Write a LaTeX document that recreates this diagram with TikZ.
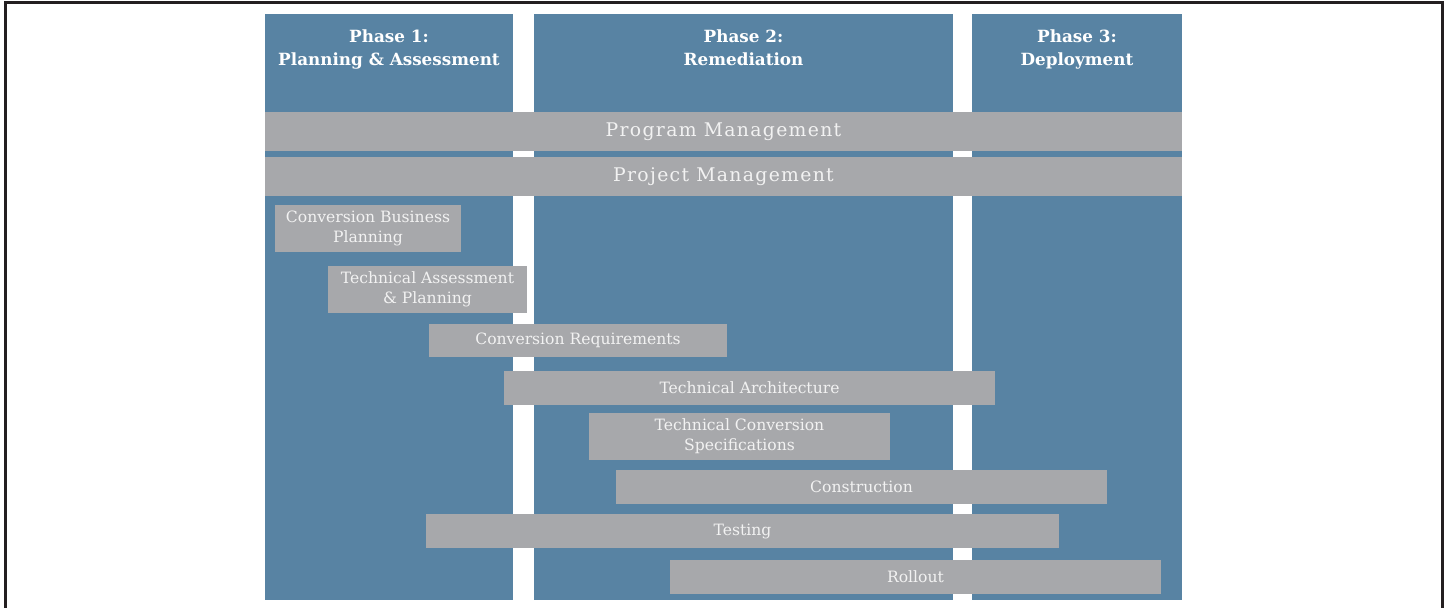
\documentclass[tikz,border=0pt]{standalone}
\usepackage{fontspec}
\setmainfont{DejaVu Serif}

\definecolor{phasenblau}{RGB}{88,131,163}
\definecolor{balkengrau}{RGB}{167,168,171}
\definecolor{schrift}{RGB}{242,242,242}
\definecolor{rahmen}{RGB}{35,31,32}

\tikzset{
    groesse/.style 2 args={minimum width=#1*0.5pt, minimum height=#2*0.5pt},
    phase/.style={fill=phasenblau, inner sep=0pt},
    titel/.style={text=white, align=center, font=\bfseries\fontsize{8.4}{11.5}\selectfont},
    balken/.style={fill=balkengrau, inner sep=0pt, text=schrift, align=center,
        font=\fontsize{7.8}{10}\selectfont},
    management/.style={balken, font=\fontsize{9.4}{10}\selectfont\addfontfeatures{LetterSpace=7}}
}

\begin{document}
\begin{tikzpicture}[x=0.5pt, y=-0.5pt]
        \useasboundingbox (0,0) rectangle (1447,608);
        % Rahmen
        \draw[line width=1.5pt, rahmen] (5,608) -- (5,2.5) -- (1442.5,2.5) -- (1442.5,608);
        % Phasen
        \node[phase, groesse={248}{586}] (p1) at (389,307) {};
        \node[phase, groesse={419}{586}] (p2) at (743.5,307) {};
        \node[phase, groesse={210}{586}] (p3) at (1077,307) {};
        \node[titel] (t1) at (389,49.5) {Phase 1:\\Planning \& Assessment};
        \node[titel] (t2) at (743.5,47.5) {Phase 2:\\Remediation};
        \node[titel] (t3) at (1077,49.5) {Phase 3:\\Deployment};
        % Management
        \node[management, groesse={917}{39}] (prog) at (723.5,131.5) {Program Management};
        \node[management, groesse={917}{39}] (proj) at (723.5,176.5) {Project Management};
        % Aufgaben
        \node[balken, groesse={186}{47}] (cbp)    at (368,228.5) {Conversion Business\\Planning};
        \node[balken, groesse={199}{47}] (tap)    at (427.5,289.5) {Technical Assessment\\\& Planning};
        \node[balken, groesse={298}{33}] (creq)   at (578,340.5) {Conversion Requirements};
        \node[balken, groesse={491}{34}] (tarch)  at (749.5,388) {Technical Architecture};
        \node[balken, groesse={301}{47}] (tcs)    at (739.5,436.5) {Technical Conversion\\Specifications};
        \node[balken, groesse={491}{34}] (constr) at (861.5,487) {Construction};
        \node[balken, groesse={633}{34}] (test)   at (742.5,531) {Testing};
        \node[balken, groesse={491}{34}] (roll)   at (915.5,577) {Rollout};
\end{tikzpicture}
\end{document}
